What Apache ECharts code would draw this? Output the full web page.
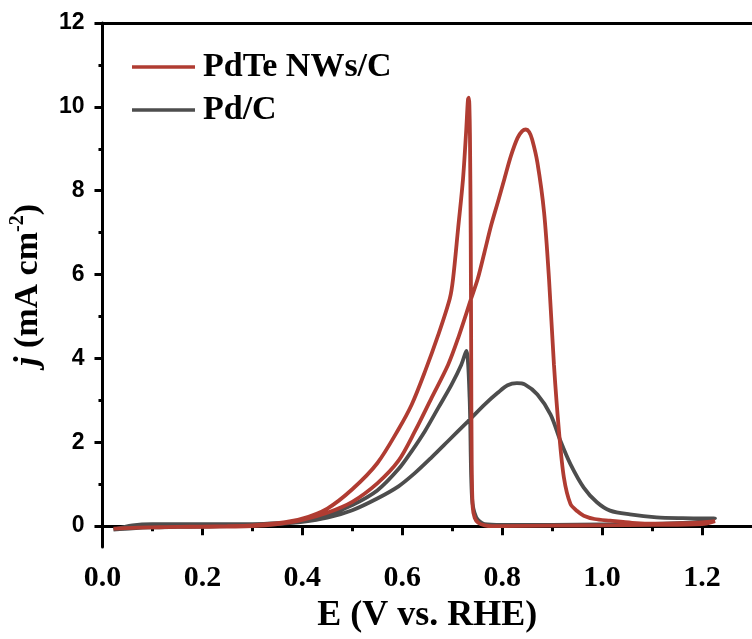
<!DOCTYPE html>
<html>
<head>
<meta charset="utf-8">
<script src="https://cdn.jsdelivr.net/npm/echarts@6/dist/echarts.min.js"></script>
<style>html,body{margin:0;padding:0;background:#fff}#c{width:752px;height:639px}</style>
</head>
<body>
<div id="c"></div>
<script>
// ---- data (E in V vs. RHE, j in mA cm^-2) ----
const seriesNames = ['PdTe NWs/C', 'Pd/C'];

const E_red_fwd = [0.022,0.06,0.1,0.15,0.2,0.25,0.3,0.35,0.4,0.45,0.5,0.55,0.5925,0.6257,0.6587,0.6918,0.7117,0.738,0.7511,0.7647,0.7778,0.7911,0.8044,0.8175,0.8308,0.8400,0.8473,0.8540,0.8600,0.8705,0.8838,0.8937,0.9036,0.9136,0.9235,0.9366,0.9500,0.9632,0.985,1.016,1.06,1.109,1.16,1.2,1.226];
const J_red_fwd = [-0.06,-0.04,-0.03,-0.02,-0.02,-0.01,0.0,0.05,0.15,0.32,0.58,1.02,1.56,2.27,3.06,3.85,4.48,5.43,5.9,6.54,7.17,7.72,8.28,8.83,9.26,9.42,9.46,9.40,9.22,8.67,7.49,5.9,3.85,2.27,1.16,0.53,0.36,0.25,0.17,0.13,0.08,0.06,0.07,0.09,0.12];
const E_red_rev = [1.226,1.2,1.1,1.0,0.9,0.8,0.78,0.765,0.752,0.745,0.741,0.739,0.738,0.737,0.7355,0.7343,0.7333,0.7315,0.7281,0.7216,0.7117,0.7017,0.6952,0.6720,0.6456,0.619,0.5925,0.55,0.5,0.45,0.4,0.35,0.3,0.25,0.2,0.15,0.1,0.06,0.022];
const J_red_rev = [0.12,0.05,0.03,0.02,0.01,0.0,0.0,0.02,0.08,0.2,0.45,1.5,4.0,7.0,9.3,10.05,10.22,10.17,9.46,8.28,7.09,5.9,5.43,4.56,3.69,2.9,2.31,1.5,0.88,0.42,0.18,0.07,0.02,0.0,-0.01,-0.02,-0.03,-0.04,-0.06];

const E_gray_fwd = [0.022,0.06,0.1,0.15,0.2,0.25,0.3,0.35,0.4,0.45,0.5,0.55,0.5925,0.6257,0.6587,0.6918,0.7315,0.7647,0.7911,0.8109,0.8294,0.845,0.8705,0.8969,0.9167,0.9366,0.9632,0.9896,1.016,1.0557,1.109,1.16,1.226];
const J_gray_fwd = [-0.08,-0.05,-0.03,-0.02,-0.01,0.0,0.02,0.05,0.1,0.2,0.38,0.66,0.95,1.27,1.64,2.03,2.5,2.9,3.18,3.36,3.41,3.38,3.14,2.66,2.03,1.48,0.92,0.57,0.37,0.28,0.21,0.19,0.18];
const E_gray_rev = [1.226,1.2,1.1,1.0,0.9,0.8,0.7647,0.748,0.7395,0.7348,0.7281,0.7182,0.6984,0.672,0.6456,0.619,0.5925,0.55,0.5,0.45,0.4,0.35,0.3,0.25,0.2,0.15,0.1,0.06,0.022];
const J_gray_rev = [0.17,0.1,0.05,0.04,0.03,0.03,0.05,0.21,0.69,3.06,4.18,3.85,3.37,2.82,2.27,1.79,1.36,0.85,0.5,0.26,0.12,0.07,0.05,0.05,0.05,0.05,0.05,0.02,-0.08];

const xMajorTicks = [0, 0.2, 0.4, 0.6, 0.8, 1.0, 1.2];
const xMinorTicks = [0.1, 0.3, 0.5, 0.7, 0.9, 1.1];
const yMajorTicks = [0, 2, 4, 6, 8, 10, 12];
const yMinorTicks = [1, 3, 5, 7, 9, 11];

function pairs(E, J) { return E.map((e, i) => [e, J[i]]); }
const redLoop = pairs(E_red_fwd, J_red_fwd).concat(pairs(E_red_rev, J_red_rev));
const grayLoop = pairs(E_gray_fwd, J_gray_fwd).concat(pairs(E_gray_rev, J_gray_rev));

const RED = '#B03C32', GRAY = '#4D4D4D';
const serif = 'Liberation Serif';
const sans = 'Liberation Sans';

const chart = echarts.init(document.getElementById('c'));
chart.setOption({
  animation: false,
  grid: { left: 101.5, top: 23, width: 655, height: 527, containLabel: false },
  legend: {
    data: seriesNames,
    orient: 'vertical',
    left: 132, top: 50, padding: 0,
    icon: 'rect', itemWidth: 63, itemHeight: 3.5, itemGap: 9,
    textStyle: { fontFamily: serif, fontWeight: 'bold', fontSize: 34, color: '#000', padding: [0, 0, 0, 3] }
  },
  xAxis: [
    {
      type: 'value', position: 'bottom', min: 0, max: 1.3,
      axisLine: { show: true, lineStyle: { color: '#000', width: 3 } },
      axisTick: { show: true, inside: false, length: 9, lineStyle: { width: 3, color: '#000' }, customValues: xMajorTicks },
      axisLabel: { customValues: xMajorTicks, margin: 16, fontFamily: serif, fontWeight: 'bold', fontSize: 30, color: '#000',
                   formatter: v => v.toFixed(1) },
      splitLine: { show: false },
      name: 'E (V vs. RHE)', nameLocation: 'middle', nameGap: 50,
      nameTextStyle: { fontFamily: serif, fontWeight: 'bold', fontSize: 36, color: '#000' }
    },
    {
      type: 'value', position: 'bottom', min: 0, max: 1.3,
      axisLine: { show: false },
      axisTick: { show: true, length: 5, lineStyle: { width: 3, color: '#000' }, customValues: xMinorTicks },
      axisLabel: { show: false }, splitLine: { show: false }
    },
    {
      type: 'value', position: 'top', min: 0, max: 1.3,
      axisLine: { show: true, lineStyle: { color: '#000', width: 3 } },
      axisTick: { show: false }, axisLabel: { show: false }, splitLine: { show: false }
    }
  ],
  yAxis: [
    {
      type: 'value', position: 'left', min: -0.5, max: 12,
      axisLine: { show: true, lineStyle: { color: '#000', width: 3 } },
      axisTick: { show: true, length: 8, lineStyle: { width: 3, color: '#000' }, customValues: yMajorTicks },
      axisLabel: { customValues: yMajorTicks, margin: 18, fontFamily: sans, fontWeight: 'bold', fontSize: 23, color: '#000' },
      splitLine: { show: false },
      name: '{i|j} (mA cm{sup|-2})', nameLocation: 'middle', nameGap: 52,
      nameTextStyle: {
        fontFamily: serif, fontWeight: 'bold', fontSize: 34, color: '#000', lineHeight: 40,
        rich: {
          i: { fontFamily: serif, fontWeight: 'bold', fontStyle: 'italic', fontSize: 34, color: '#000', lineHeight: 40 },
          sup: { fontFamily: serif, fontWeight: 'bold', fontSize: 20, color: '#000', verticalAlign: 'top', lineHeight: 22 }
        }
      }
    },
    {
      type: 'value', position: 'left', min: -0.5, max: 12,
      axisLine: { show: false },
      axisTick: { show: true, length: 4, lineStyle: { width: 3, color: '#000' }, customValues: yMinorTicks },
      axisLabel: { show: false }, splitLine: { show: false }
    }
  ],
  series: [
    {
      name: 'Pd/C', type: 'line', xAxisIndex: 0, yAxisIndex: 0, data: grayLoop,
      showSymbol: false, symbol: 'none', smooth: 0.3,
      lineStyle: { color: GRAY, width: 3.8 }, itemStyle: { color: GRAY }, z: 2
    },
    {
      name: 'PdTe NWs/C', type: 'line', xAxisIndex: 0, yAxisIndex: 0, data: redLoop,
      showSymbol: false, symbol: 'none', smooth: 0.3,
      lineStyle: { color: RED, width: 3.8 }, itemStyle: { color: RED }, z: 3
    }
  ]
});
</script>
</body>
</html>
